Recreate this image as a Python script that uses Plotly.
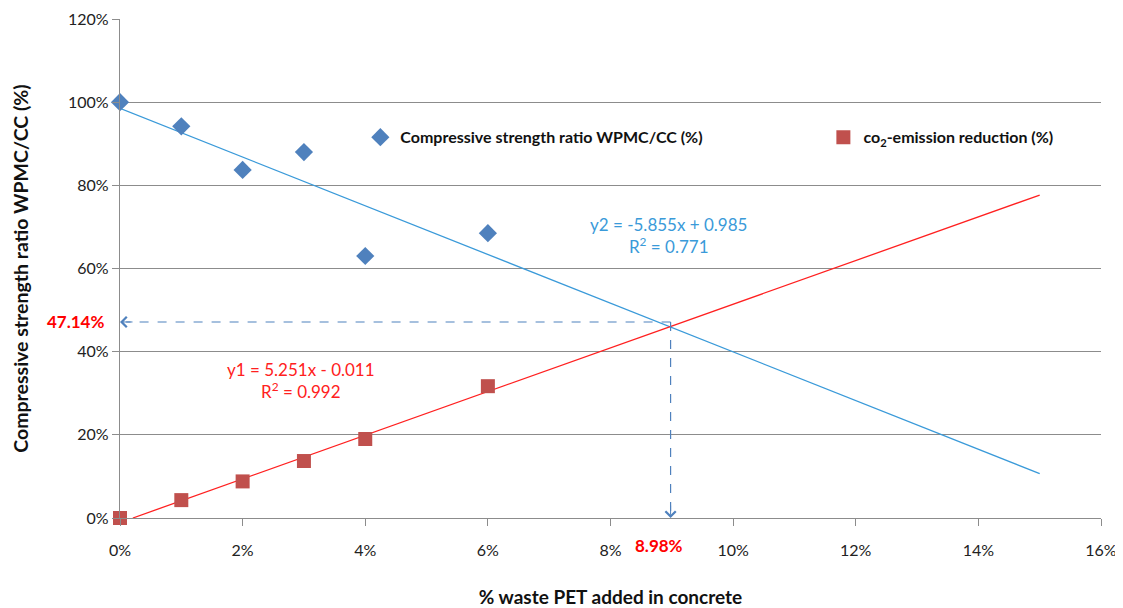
import plotly.graph_objects as go

# ---- data ----
pet_x = [0.00, 0.01, 0.02, 0.03, 0.04, 0.06]
strength_ratio = [1.000, 0.942, 0.837, 0.880, 0.630, 0.685]
co2_reduction = [0.000, 0.043, 0.088, 0.137, 0.190, 0.317]

blue_slope, blue_intercept = -5.855, 0.985
red_slope, red_intercept = 5.251, -0.011
trend_x_end = 0.15
inter_x, inter_y = 0.0898, 0.4714

x_ticks = [0, 0.02, 0.04, 0.06, 0.08, 0.10, 0.12, 0.14, 0.16]
y_ticks = [0, 0.2, 0.4, 0.6, 0.8, 1.0, 1.2]

FONT = "Lato, 'Liberation Sans', sans-serif"
BLUE_M = "#4F81BD"
BLUE_L = "#3A9AD9"
RED_M = "#C0504D"
RED_L = "#FF2020"

fig = go.Figure()

# trendlines
red_x0 = -red_intercept / red_slope
fig.add_trace(go.Scatter(x=[0, trend_x_end],
                         y=[blue_intercept, blue_slope * trend_x_end + blue_intercept],
                         mode="lines", line=dict(color=BLUE_L, width=1.3),
                         showlegend=False, hoverinfo="skip"))
fig.add_trace(go.Scatter(x=[red_x0, trend_x_end],
                         y=[0, red_slope * trend_x_end + red_intercept],
                         mode="lines", line=dict(color=RED_L, width=1.3),
                         showlegend=False, hoverinfo="skip"))

# dashed guides
fig.add_trace(go.Scatter(x=[inter_x, 0.001], y=[inter_y, inter_y], mode="lines",
                         line=dict(color=BLUE_M, width=1.2, dash="dash"),
                         showlegend=False, hoverinfo="skip"))
fig.add_trace(go.Scatter(x=[inter_x, inter_x], y=[inter_y, 0.005], mode="lines",
                         line=dict(color=BLUE_M, width=1.2, dash="dash"),
                         showlegend=False, hoverinfo="skip"))

# markers
fig.add_trace(go.Scatter(x=pet_x, y=strength_ratio, mode="markers",
                         name="Compressive strength ratio WPMC/CC (%)",
                         marker=dict(symbol="diamond", size=14, color=BLUE_M),
                         cliponaxis=False, legend="legend"))
fig.add_trace(go.Scatter(x=pet_x, y=co2_reduction, mode="markers",
                         name="co<sub>2</sub>-emission reduction (%)",
                         marker=dict(symbol="square", size=14, color=RED_M),
                         cliponaxis=False, legend="legend2"))

annotations = [
    dict(x=0.0895, y=0.68, xref="x", yref="y",
         text="y2 = -5.855x + 0.985<br>R<sup>2</sup> = 0.771", showarrow=False,
         font=dict(family=FONT, size=17, color=BLUE_L), align="center"),
    dict(x=0.0295, y=0.33, xref="x", yref="y",
         text="y1 = 5.251x - 0.011<br>R<sup>2</sup> = 0.992", showarrow=False,
         font=dict(family=FONT, size=17, color=RED_L), align="center"),
    dict(x=0, y=inter_y, xref="paper", yref="y", xanchor="right", xshift=-14,
         text="<b>%.2f%%</b>" % (inter_y * 100), showarrow=False,
         font=dict(family=FONT, size=17, color="#FF0000")),
    dict(x=inter_x, y=0, xref="x", yref="paper", yanchor="top", yshift=-15, xshift=-12,
         text="<b>%.2f%%</b>" % (inter_x * 100), showarrow=False,
         font=dict(family=FONT, size=17, color="#FF0000")),
    # arrowheads
    dict(x=0, y=inter_y, ax=14, ay=0, xref="x", yref="y", axref="pixel", ayref="pixel",
         showarrow=True, arrowhead=4, arrowsize=2, arrowwidth=1, arrowcolor=BLUE_M, text=""),
    dict(x=inter_x, y=0, ax=0, ay=-14, xref="x", yref="y", axref="pixel", ayref="pixel",
         showarrow=True, arrowhead=4, arrowsize=2, arrowwidth=1, arrowcolor=BLUE_M, text=""),
]

legend_font = dict(family=FONT, size=16, color="#111", weight="bold")

# page body has an 8px margin, so the figure is sized/offset to compensate
fig.update_layout(
    width=1115, height=600,
    margin=dict(l=112, r=22, t=11, b=90, autoexpand=False),
    paper_bgcolor="white", plot_bgcolor="white",
    font=dict(family=FONT, size=16, color="#222"),
    legend=dict(x=0.245, y=0.763, xanchor="left", yanchor="middle",
                itemwidth=30, bgcolor="rgba(0,0,0,0)", font=legend_font),
    legend2=dict(x=0.717, y=0.763, xanchor="left", yanchor="middle",
                 itemwidth=30, bgcolor="rgba(0,0,0,0)", font=legend_font),
    annotations=annotations,
    xaxis=dict(range=[0, 0.16], tickvals=x_ticks, tickformat=".0%", automargin=False,
               showgrid=False, zeroline=False, showline=True, linecolor="#8c8c8c",
               linewidth=1.3, ticks="outside", ticklen=7, tickcolor="#8c8c8c",
               ticklabelstandoff=11,
               tickfont=dict(size=16, color="#222"),
               title=dict(text="<b>% waste PET added in concrete</b>",
                          font=dict(size=19, color="#111"), standoff=38)),
    yaxis=dict(range=[0, 1.2], tickvals=y_ticks, tickformat=".0%", automargin=False,
               showgrid=True, gridcolor="#8c8c8c", gridwidth=1,
               zeroline=False, showline=True, linecolor="#8c8c8c", linewidth=1.3,
               ticks="outside", ticklen=7, tickcolor="#8c8c8c",
               tickfont=dict(size=16, color="#222"),
               title=dict(text="<b>Compressive strength ratio WPMC/CC (%)</b>",
                          font=dict(size=19.5, color="#111"), standoff=34)),
)

fig.write_html("out.html")
